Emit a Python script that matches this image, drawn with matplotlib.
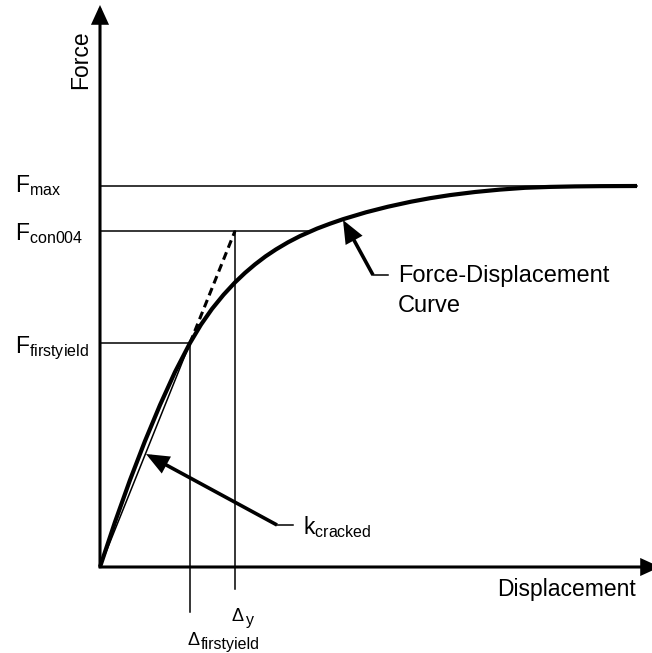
import matplotlib
matplotlib.use("Agg")
import matplotlib.pyplot as plt
from matplotlib.patches import FancyArrowPatch

plt.rcParams["font.family"] = ["Liberation Sans", "DejaVu Sans"]
plt.rcParams["mathtext.fontset"] = "custom"
plt.rcParams["mathtext.rm"] = "Liberation Sans"
plt.rcParams["mathtext.it"] = "Liberation Sans:italic"
plt.rcParams["mathtext.bf"] = "Liberation Sans:bold"

# Force-displacement response (arbitrary units)
curve_disp = [0.00, 0.15, 0.30, 0.45, 0.60, 0.75, 0.90, 1.01, 1.12, 1.235, 1.35,
              1.45, 1.55, 1.655, 1.76, 1.88, 2.00, 2.17, 2.30, 2.43, 2.66, 2.88,
              3.11, 3.30, 3.50, 3.75, 4.00, 4.25, 4.50, 4.75, 5.00, 5.37]
curve_force = [0.000, 0.450, 0.870, 1.260, 1.620, 1.950, 2.240, 2.424, 2.581, 2.722,
               2.846, 2.941, 3.026, 3.106, 3.176, 3.247, 3.309, 3.384, 3.433, 3.478,
               3.547, 3.603, 3.653, 3.688, 3.719, 3.750, 3.774, 3.792, 3.801, 3.806,
               3.8085, 3.810]

# Characteristic levels
F_max = 3.81
F_con004 = 3.36
F_firstyield = 2.24
disp_firstyield = 0.90
disp_y = 1.35
disp_con004_on_curve = 2.13   # where the F_con004 level meets the curve
disp_end = 5.37

fig = plt.figure(figsize=(6.52, 6.53), dpi=100)
ax = fig.add_axes([0, 0, 1, 1])
ax.set_xlim(-1.00, 5.52)
ax.set_ylim(-0.86, 5.67)
ax.axis("off")

FS = 16.5
SUB = 11.5
BLACK = "black"


def arrow(p0, p1, lw, hl, hw):
    a = FancyArrowPatch(p0, p1, arrowstyle=f"-|>,head_length={hl},head_width={hw}",
                        mutation_scale=1, lw=lw, color=BLACK, shrinkA=0, shrinkB=0,
                        clip_on=False, joinstyle="miter", capstyle="butt")
    ax.add_patch(a)


# axes with arrowheads
arrow((0, -0.012), (0, 5.62), 2.2, 10.5, 4.8)
arrow((-0.012, 0), (5.60, 0), 2.2, 10.5, 4.8)
ax.text(-0.19, 5.07, "Force", rotation=90, fontsize=FS, ha="center", va="center")
ax.text(3.97, -0.29, "Displacement", fontsize=FS, ha="left", va="baseline")

# reference levels
thin = dict(color=BLACK, lw=1.1)
ax.plot([0, disp_end], [F_max, F_max], **thin)
ax.plot([0, disp_con004_on_curve], [F_con004, F_con004], **thin)
ax.plot([0, disp_firstyield], [F_firstyield, F_firstyield], **thin)
ax.plot([disp_firstyield, disp_firstyield], [F_firstyield, -0.45], **thin)
ax.plot([disp_y, disp_y], [F_con004, -0.22], **thin)

# cracked stiffness secant and its extrapolation
ax.plot([0, disp_firstyield], [0, F_firstyield], **thin)
ax.plot([disp_firstyield, disp_y], [F_firstyield, F_con004], color=BLACK, lw=2.2,
        linestyle=(0, (2.6, 1.6)))

# response curve
ax.plot(curve_disp, curve_force, color=BLACK, lw=3.0, solid_joinstyle="round",
        solid_capstyle="butt")

# level labels
ax.text(-0.85, F_max - 0.06, r"F$_{\mathrm{max}}$", fontsize=FS, va="baseline")
ax.text(-0.85, F_con004 - 0.09, r"F$_{\mathrm{con004}}$", fontsize=FS, va="baseline")
ax.text(-0.85, F_firstyield - 0.10, r"F$_{\mathrm{firstyield}}$", fontsize=FS, va="baseline")

# displacement labels: Greek delta with a separate subscript
ax.text(disp_y - 0.03, -0.54, "Δ", fontsize=13, va="baseline")
ax.text(disp_y + 0.11, -0.575, "y", fontsize=SUB, va="baseline")
ax.text(disp_firstyield - 0.03, -0.78, "Δ", fontsize=13, va="baseline")
ax.text(disp_firstyield + 0.11, -0.815, "firstyield", fontsize=SUB, va="baseline")

# callouts
ax.plot([1.77, 1.93], [0.42, 0.42], color=BLACK, lw=1.1)
arrow((1.77, 0.42), (0.46, 1.13), 2.6, 12, 5)
ax.text(2.03, 0.33, r"k$_{\mathrm{cracked}}$", fontsize=FS, va="baseline")

ax.plot([2.73, 2.88], [2.92, 2.92], color=BLACK, lw=1.1)
arrow((2.73, 2.92), (2.43, 3.47), 2.6, 12, 5)
ax.text(2.98, 2.85, "Force-Displacement", fontsize=17, va="baseline", ha="left")
ax.text(2.98, 2.55, "Curve", fontsize=17, va="baseline", ha="left")

fig.savefig("out.png", dpi=100)
